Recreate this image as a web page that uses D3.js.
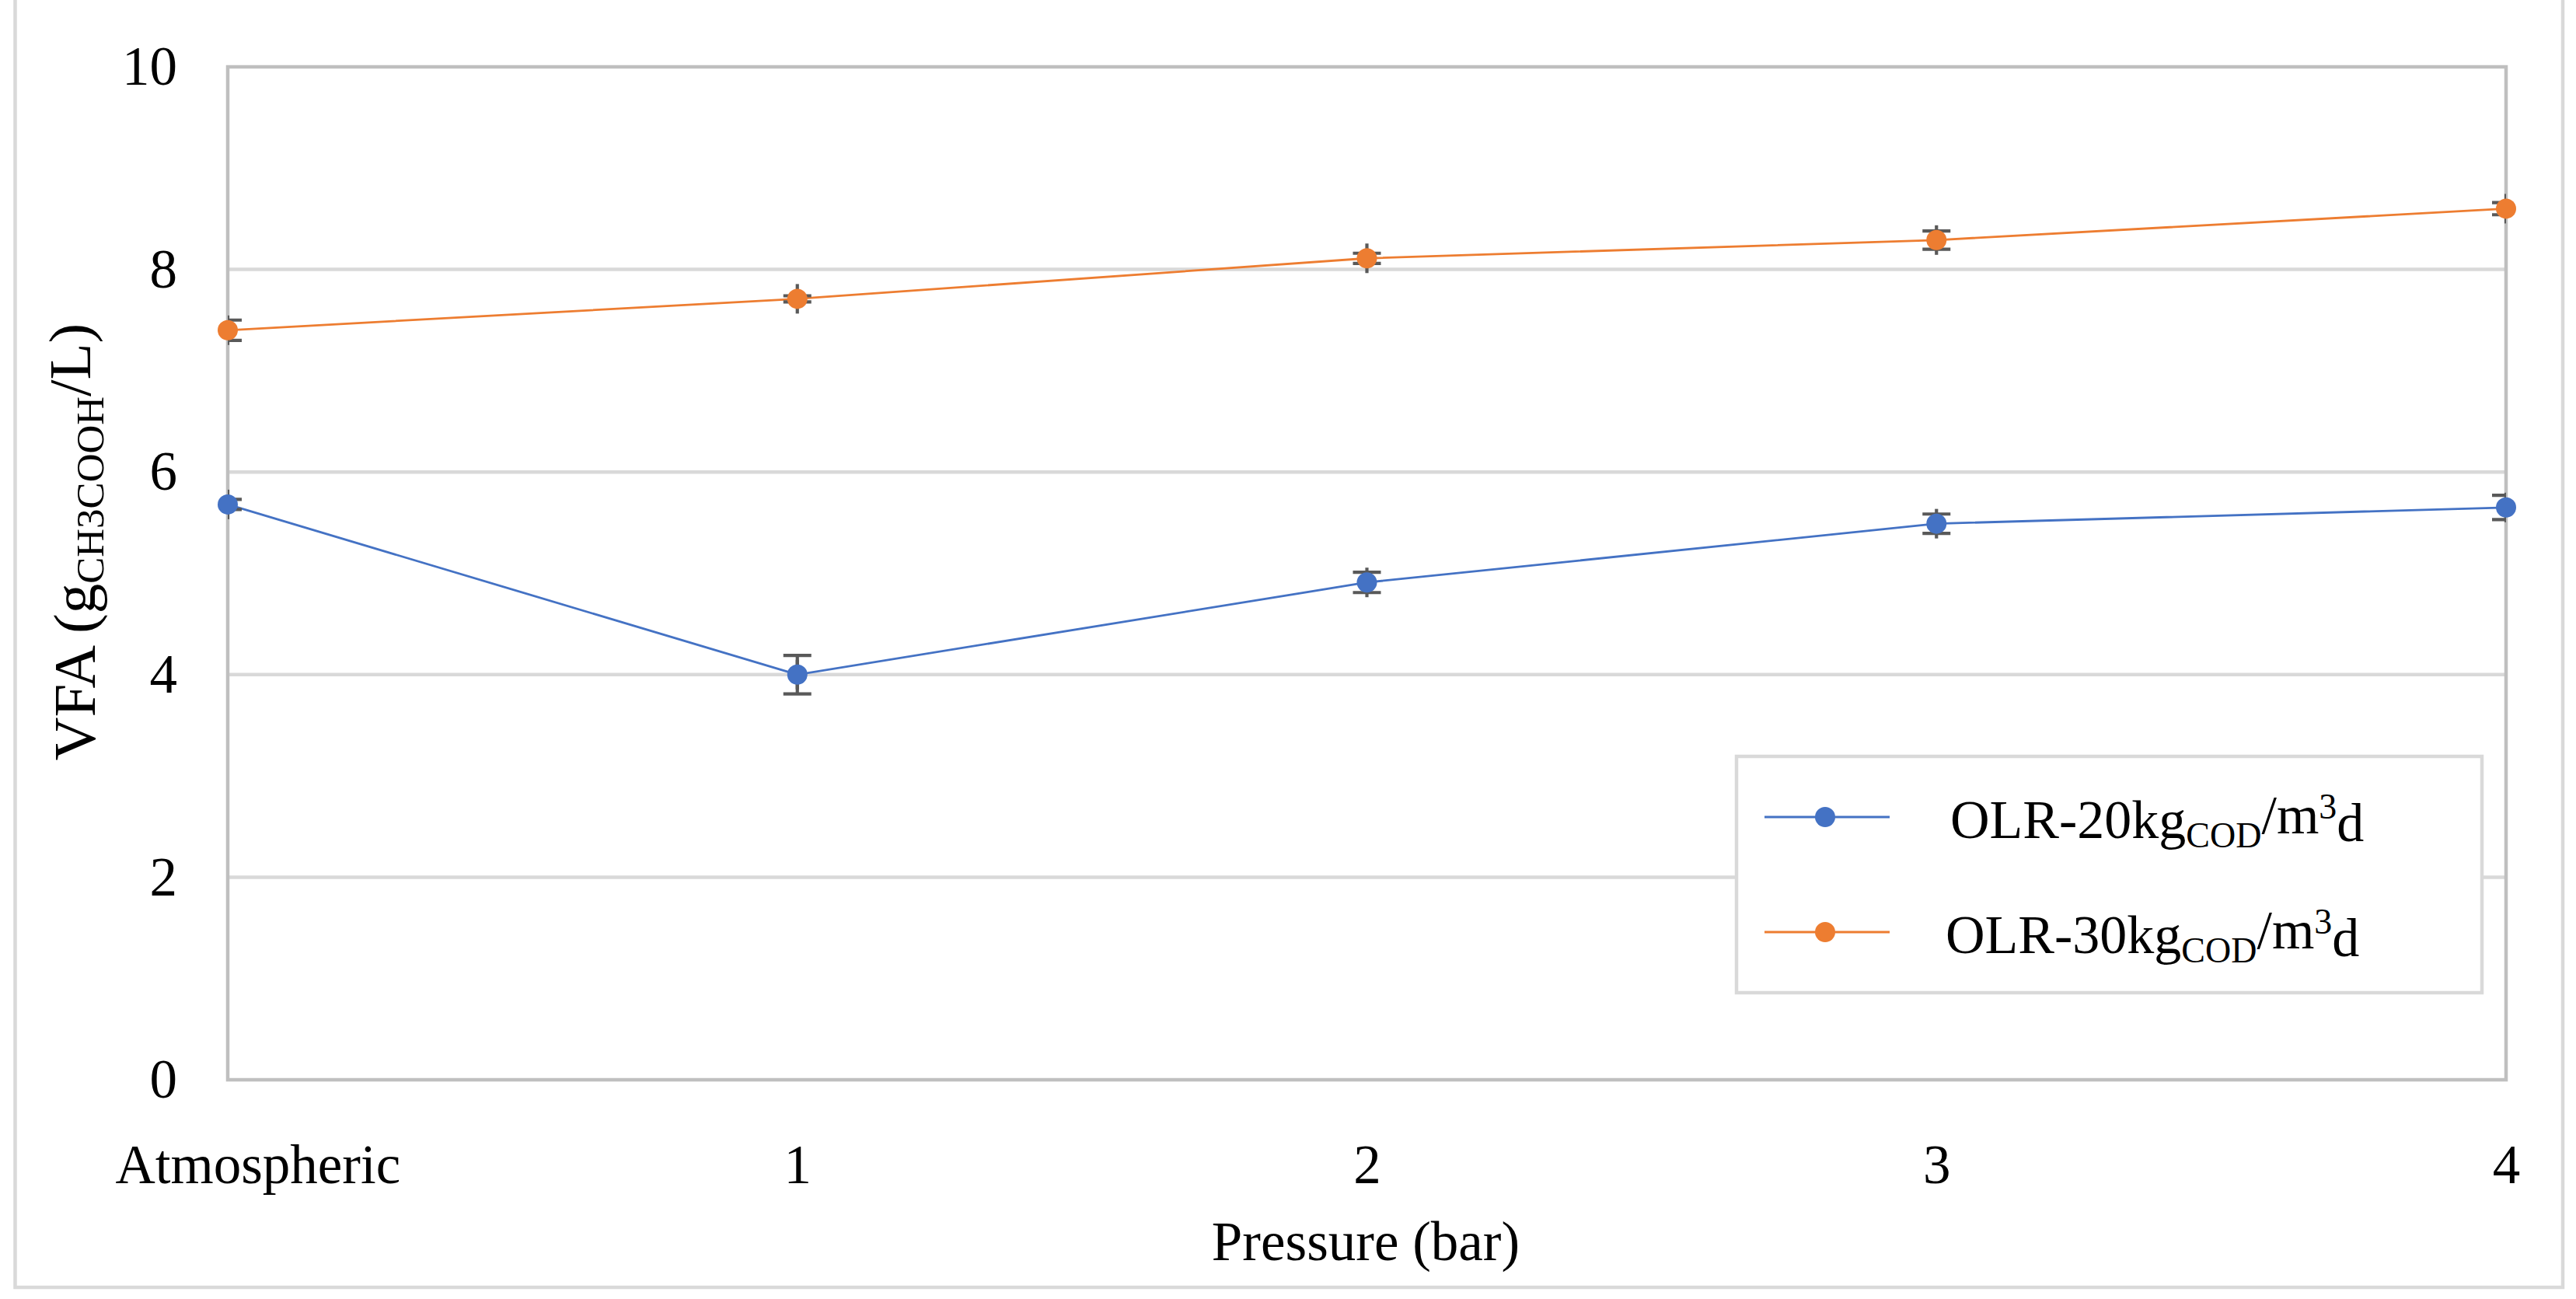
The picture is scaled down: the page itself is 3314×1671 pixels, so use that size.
<!DOCTYPE html>
<html>
<head>
<meta charset="utf-8">
<script src="https://cdn.jsdelivr.net/npm/d3@7"></script>
<style>
  html, body { margin: 0; padding: 0; background: #ffffff; }
  svg { display: block; }
  text { font-family: "Liberation Serif", "Times New Roman", serif; fill: #000; }
</style>
</head>
<body>
<svg id="chart" width="3314" height="1671"></svg>
<script>
// ---- data ----
const categories = ["Atmospheric", "1", "2", "3", "4"];
const olr20Values = [5.68, 4.00, 4.91, 5.49, 5.65];
const olr20Errors = [0.05, 0.19, 0.10, 0.095, 0.12];
const olr30Values = [7.40, 7.71, 8.11, 8.29, 8.60];
const olr30Errors = [0.10, 0.03, 0.05, 0.09, 0.06];
const yTicks = [0, 2, 4, 6, 8, 10];
const seriesNames = ["OLR-20", "OLR-30"];

const series = [
  { name: seriesNames[0], values: olr20Values, errors: olr20Errors, color: "#4472C4" },
  { name: seriesNames[1], values: olr30Values, errors: olr30Errors, color: "#ED7D31" }
];

// ---- layout ----
const plot = { left: 293, right: 3224, top: 86, bottom: 1389 };
const svg = d3.select("#chart");

// outer chart border
svg.append("rect")
  .attr("x", 19.5).attr("y", -10)
  .attr("width", 3297 - 19.5).attr("height", 1656 + 10)
  .attr("fill", "#fff").attr("stroke", "#d9d9d9").attr("stroke-width", 4.5);

const x = d3.scalePoint().domain(categories).range([plot.left, plot.right]).padding(0);
const y = d3.scaleLinear().domain([0, 10]).range([plot.bottom, plot.top]);

// gridlines
svg.append("g").selectAll("line")
  .data(yTicks.filter(t => t > 0 && t < 10))
  .join("line")
  .attr("x1", plot.left).attr("x2", plot.right)
  .attr("y1", d => y(d)).attr("y2", d => y(d))
  .attr("stroke", "#d9d9d9").attr("stroke-width", 4.5);

// plot area border
svg.append("rect")
  .attr("x", plot.left).attr("y", plot.top)
  .attr("width", plot.right - plot.left).attr("height", plot.bottom - plot.top)
  .attr("fill", "none").attr("stroke", "#bfbfbf").attr("stroke-width", 4.5);

// axes
const fs = 71;
const yAxis = svg.append("g")
  .attr("transform", `translate(${plot.left},0)`)
  .call(d3.axisLeft(y).tickValues(yTicks).tickSize(0).tickPadding(65).tickFormat(d3.format("d")));
yAxis.select(".domain").remove();
yAxis.selectAll("text").style("font-size", fs + "px").style("font-family", "Liberation Serif");

const xAxis = svg.append("g")
  .attr("transform", `translate(0,${plot.bottom})`)
  .call(d3.axisBottom(x).tickSize(0).tickPadding(83));
xAxis.select(".domain").remove();
xAxis.selectAll("text").style("font-size", fs + "px").style("font-family", "Liberation Serif");
xAxis.selectAll(".tick").filter((d, i) => i === 0).select("text")
  .attr("text-anchor", "start").attr("x", 148 - plot.left);

// axis titles
svg.append("text")
  .attr("x", 1757).attr("y", 1621)
  .attr("text-anchor", "middle")
  .style("font-size", fs + "px")
  .text("Pressure (bar)");

const yt = svg.append("text")
  .attr("transform", "translate(122,697) rotate(-90)")
  .attr("text-anchor", "middle")
  .style("font-size", "77px");
yt.append("tspan").text("VFA (g");
yt.append("tspan").attr("dy", "0.22em").style("font-size", "51px").text("CH3COOH");
yt.append("tspan").attr("dy", "-0.22em").text("/L)");

// clip for error bars
svg.append("clipPath").attr("id", "plotClip")
  .append("rect")
  .attr("x", plot.left).attr("y", plot.top - 50)
  .attr("width", plot.right - plot.left).attr("height", plot.bottom - plot.top + 100);

const line = d3.line().x((d, i) => x(categories[i])).y(d => y(d));

// lines
series.forEach(s => {
  svg.append("path")
    .attr("d", line(s.values))
    .attr("fill", "none").attr("stroke", s.color).attr("stroke-width", 2.8);
});

// error bars (clipped)
const eb = svg.append("g").attr("clip-path", "url(#plotClip)");
const ebColor = "#595959", capHalf = 18, stubHalf = 19, ebw = 4.2;
series.forEach(s => {
  s.values.forEach((v, i) => {
    const cx = x(categories[i]);
    const y1 = y(v + s.errors[i]), y2 = y(v - s.errors[i]);
    eb.append("line").attr("x1", cx).attr("x2", cx).attr("y1", y1).attr("y2", y2)
      .attr("stroke", ebColor).attr("stroke-width", ebw);
    eb.append("line").attr("x1", cx).attr("x2", cx).attr("y1", y(v) - stubHalf).attr("y2", y(v) + stubHalf)
      .attr("stroke", ebColor).attr("stroke-width", ebw);
    [y1, y2].forEach(yy => {
      eb.append("line").attr("x1", cx - capHalf).attr("x2", cx + capHalf).attr("y1", yy).attr("y2", yy)
        .attr("stroke", ebColor).attr("stroke-width", ebw);
    });
  });
});

// markers
series.forEach(s => {
  svg.append("g").selectAll("circle")
    .data(s.values)
    .join("circle")
    .attr("cx", (d, i) => x(categories[i]))
    .attr("cy", d => y(d))
    .attr("r", 13)
    .attr("fill", s.color);
});

// legend
const lg = svg.append("g");
lg.append("rect")
  .attr("x", 2234).attr("y", 973).attr("width", 3193 - 2234).attr("height", 1277 - 973)
  .attr("fill", "#fff").attr("stroke", "#d9d9d9").attr("stroke-width", 4.5);
const legendRows = [
  { s: series[0], y: 1051, tx: 2509, num: "20" },
  { s: series[1], y: 1199, tx: 2503, num: "30" }
];
legendRows.forEach(r => {
  lg.append("line").attr("x1", 2270).attr("x2", 2431).attr("y1", r.y).attr("y2", r.y)
    .attr("stroke", r.s.color).attr("stroke-width", 2.8);
  lg.append("circle").attr("cx", 2348).attr("cy", r.y).attr("r", 13).attr("fill", r.s.color);
  const t = lg.append("text").attr("x", r.tx).attr("y", r.y + 27).style("font-size", "70px");
  t.append("tspan").text("OLR-" + r.num + "kg");
  t.append("tspan").attr("dy", "0.25em").style("font-size", "46px").text("COD");
  t.append("tspan").attr("dy", "-0.25em").text("/m");
  t.append("tspan").attr("dy", "-0.42em").style("font-size", "46px").text("3");
  t.append("tspan").attr("dy", "0.42em").text("d");
});
</script>
</body>
</html>
